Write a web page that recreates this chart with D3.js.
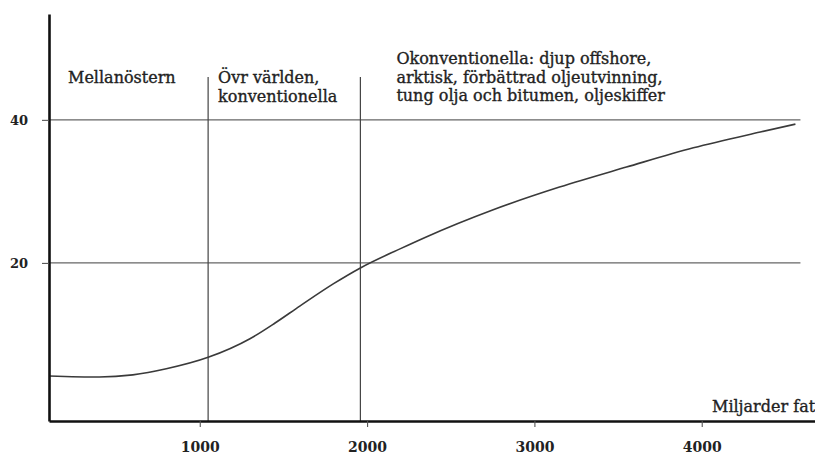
<!DOCTYPE html>
<html>
<head>
<meta charset="utf-8">
<script src="https://cdn.jsdelivr.net/npm/d3@7"></script>
<style>
  html, body { margin: 0; padding: 0; background: #fff; }
  svg { display: block; }
  text { font-family: "DejaVu Serif", serif; fill: #222; }
</style>
</head>
<body>
<div id="chart"></div>
<script>
const width = 815, height = 454;

// cost curve (USD/fat) against cumulative volume (miljarder fat)
const volume = [100, 400, 600, 800, 1050, 1300, 1450, 1600, 1800, 1960, 2200, 2350, 2750, 3150, 3550, 3950, 4350, 4560];
const cost   = [4.2, 4.05, 4.35, 5.2, 6.8, 9.4, 11.6, 14.0, 17.1, 19.3, 22.0, 23.6, 27.4, 30.6, 33.4, 36.1, 38.3, 39.4];

const xTicks = [1000, 2000, 3000, 4000];
const yTicks = [20, 40];
const dividers = [1050, 1960];
const dividerTop = 46;
const gridEnd = 4590;
const xDomain = [99, 4677];
const yDomain = [-2.1, 54.8];

const regionLabels = [
  ["Mellanöstern"],
  ["Övr världen,", "konventionella"],
  ["Okonventionella: djup offshore,", "arktisk, förbättrad oljeutvinning,", "tung olja och bitumen, oljeskiffer"]
];
const xTitle = "Miljarder fat";

const svg = d3.select("#chart").append("svg")
  .attr("width", width)
  .attr("height", height);

const x = d3.scaleLinear().domain(xDomain).range([49, 815]);
const y = d3.scaleLinear().domain(yDomain).range([421, 14]);

// horizontal grid lines
svg.append("g")
  .selectAll("line").data(yTicks)
  .join("line")
  .attr("x1", x(xDomain[0]))
  .attr("x2", x(gridEnd))
  .attr("y1", d => y(d))
  .attr("y2", d => y(d))
  .attr("stroke", "#666")
  .attr("stroke-width", 1.1);

// region dividers
svg.append("g")
  .selectAll("line").data(dividers)
  .join("line")
  .attr("x1", d => x(d))
  .attr("x2", d => x(d))
  .attr("y1", y(dividerTop))
  .attr("y2", y(yDomain[0]))
  .attr("stroke", "#444")
  .attr("stroke-width", 1.2);

// curve
const line = d3.line()
  .x((d, i) => x(volume[i]))
  .y(d => y(d))
  .curve(d3.curveMonotoneX);

svg.append("path")
  .datum(cost)
  .attr("d", line)
  .attr("fill", "none")
  .attr("stroke", "#3a3a3a")
  .attr("stroke-width", 1.6);

// axes
const xAxis = svg.append("g")
  .attr("transform", `translate(0,${y(yDomain[0])})`)
  .call(d3.axisBottom(x).tickValues(xTicks).tickSize(6).tickSizeOuter(0).tickPadding(15).tickFormat(d3.format("d")));

const yAxis = svg.append("g")
  .attr("transform", `translate(${x(xDomain[0])},0)`)
  .call(d3.axisLeft(y).tickValues(yTicks).tickSize(7).tickSizeOuter(0).tickPadding(14));

[xAxis, yAxis].forEach(g => {
  g.select(".domain").attr("stroke", "#111").attr("stroke-width", 2.6);
  g.selectAll(".tick line").attr("stroke", "#555").attr("stroke-width", 1.1);
  g.selectAll(".tick text")
    .attr("font-family", "DejaVu Serif")
    .attr("font-size", 13)
    .attr("font-weight", "bold")
    .attr("fill", "#2a2a2a");
});
xAxis.selectAll(".tick text").attr("font-size", 14);

// region labels
const labelX = [x(xDomain[0]) + 19, x(dividers[0]) + 10, x(dividers[1]) + 36];
const labelY = [83, 83, 64];
regionLabels.forEach((lines, i) => {
  const t = svg.append("text")
    .attr("x", labelX[i])
    .attr("y", labelY[i])
    .attr("font-size", 16)
    .attr("stroke", "#222")
    .attr("stroke-width", 0.35);
  lines.forEach((s, j) => {
    t.append("tspan")
      .attr("x", labelX[i])
      .attr("dy", j === 0 ? 0 : 18.5)
      .text(s);
  });
});

svg.append("text")
  .attr("x", 712)
  .attr("y", 412)
  .attr("font-size", 16)
  .attr("stroke", "#222")
  .attr("stroke-width", 0.35)
  .text(xTitle);
</script>
</body>
</html>
